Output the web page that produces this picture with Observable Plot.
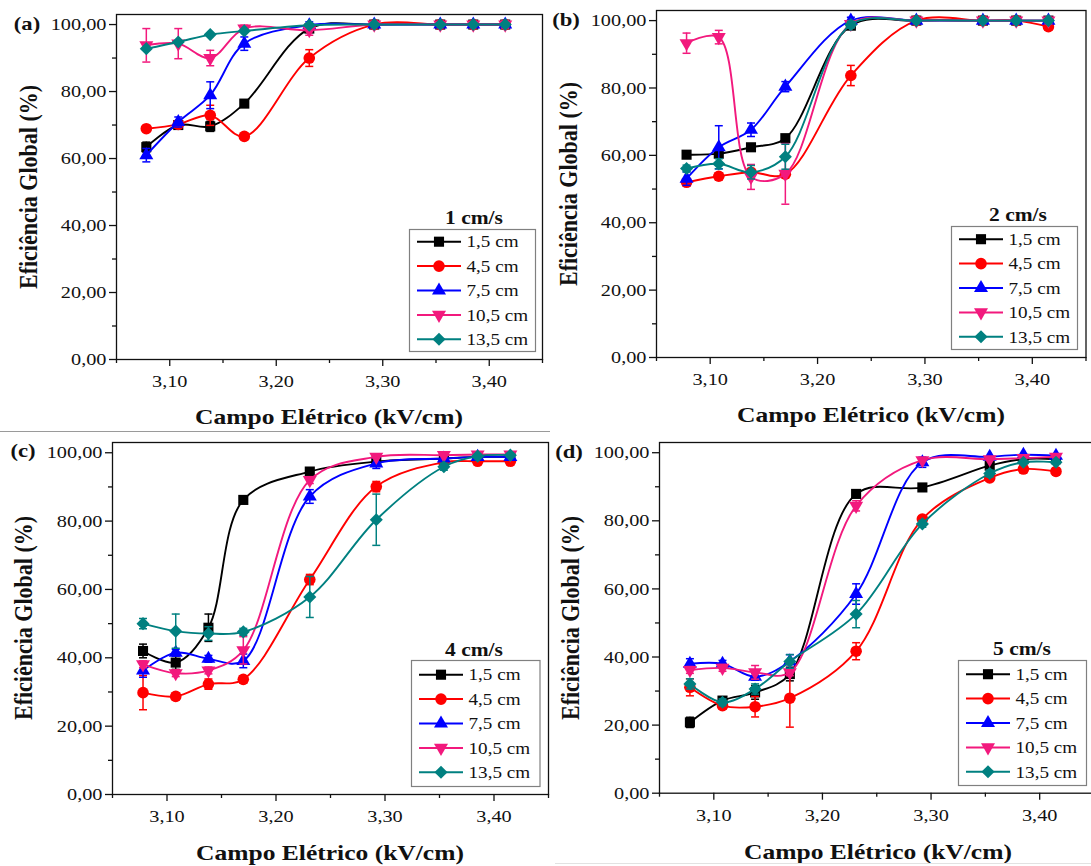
<!DOCTYPE html>
<html><head><meta charset="utf-8">
<script src="https://cdn.jsdelivr.net/npm/d3@7"></script>
<script src="https://cdn.jsdelivr.net/npm/@observablehq/plot@0.6"></script>
<style>
html,body{margin:0;padding:0;background:#fff;overflow:hidden;}
#root{position:relative;width:1091px;height:866px;overflow:hidden;background:#fff;font-family:"Liberation Serif","Times New Roman",serif;color:#111;}
.pl{position:absolute;}
.pl svg{overflow:visible;}
.t{position:absolute;white-space:nowrap;line-height:1;}
.b{font-weight:bold;}
</style></head><body><div id="root"></div><script>
// ---- data ----
const fieldKVcm = [3.078, 3.108, 3.138, 3.170, 3.231, 3.292, 3.354, 3.385, 3.415];
const seriesLabels = ["1,5 cm", "4,5 cm", "7,5 cm", "10,5 cm", "13,5 cm"];
const panelTags = ["(a)", "(b)", "(c)", "(d)"];
const panelSpeeds = ["1 cm/s", "2 cm/s", "4 cm/s", "5 cm/s"];
const xTicks = [3.1, 3.2, 3.3, 3.4];
const xMinorTicks = [3.05, 3.15, 3.25, 3.35, 3.45];
const yTicks = [0, 20, 40, 60, 80, 100];
const yMinorTicks = [10, 30, 50, 70, 90];
const xTitle = "Campo Elétrico (kV/cm)";
const yTitle = "Eficiência Global (%)";

// efficiency (%) per series [1,5 / 4,5 / 7,5 / 10,5 / 13,5 cm]
const eff1cms = [
  [63.4, 70.0, 69.6, 76.4, 98.8, 100, 100, 100, 100],
  [68.9, 70.2, 72.9, 66.6, 90.0, 100, 100, 100, 100],
  [61.0, 70.9, 78.9, 94.3, 99.8, 100, 100, 100, 100],
  [93.8, 94.3, 90.0, 98.8, 98.3, 100, 100, 100, 100],
  [92.8, 94.8, 97.0, 98.1, 99.8, 100, 100, 100, 100]
];
const err1cms = [
  [1.5, 0, 1.5, 0, 1, 0, 0, 0, 0],
  [0, 0, 3, 0, 2.5, 0, 0, 0, 0],
  [2, 1.5, 4, 2, 1, 0, 0, 0, 0],
  [5, 4.5, 2.3, 1, 1.5, 0, 0, 0, 1],
  [0, 0, 0, 0, 0, 0, 0, 0, 0]
];
const eff2cms = [
  [60.2, 60.5, 62.4, 65.1, 98.5, 100, 100, 100, 100],
  [52.0, 53.8, 55.0, 54.4, 83.7, 100, 100, 100, 98.2],
  [53.1, 62.4, 67.6, 80.4, 100, 100, 100, 100, 100],
  [93.3, 95.1, 53.6, 54.5, 99.0, 100, 100, 100, 100],
  [56.1, 57.5, 55.0, 59.6, 98.8, 100, 100, 100, 100]
];
const err2cms = [
  [1, 0, 1, 1, 1, 0, 0, 0, 0],
  [1, 1, 1, 0, 3, 0, 0, 0, 1],
  [2, 6.4, 2, 1.5, 1, 0, 0, 0, 0],
  [3, 2, 3.7, 9, 1, 0, 0, 0, 1],
  [1, 1.5, 2, 3.7, 1, 0, 0, 0, 0]
];
const eff4cms = [
  [42.0, 38.6, 48.8, 86.2, 94.5, 97.4, 98.3, 98.8, 98.8],
  [29.8, 28.7, 32.3, 33.7, 62.9, 90.1, 97.2, 97.5, 97.5],
  [36.3, 41.5, 39.7, 39.1, 87.2, 96.9, 98.3, 98.8, 98.8],
  [38.1, 35.5, 36.3, 42.2, 92.0, 98.8, 99.3, 99.5, 99.5],
  [50.0, 47.8, 47.1, 47.6, 57.8, 80.4, 95.9, 99.0, 99.3]
];
const err4cms = [
  [2, 2, 4, 1, 1, 0, 0, 0, 0],
  [5, 1, 1.5, 1, 1.5, 1.5, 1, 0.5, 0.5],
  [2, 1, 1, 2, 2, 1.5, 0, 0, 0],
  [1, 1, 1, 4, 1, 0, 0, 0, 0],
  [1.5, 5, 2, 1, 6, 7.5, 1, 0.5, 0.5]
];
const eff5cms = [
  [20.8, 27.2, 29.6, 35.0, 87.9, 89.8, 96.2, 98.1, 98.1],
  [31.1, 25.7, 25.4, 27.9, 41.7, 80.5, 92.6, 95.2, 94.5],
  [38.0, 38.0, 34.2, 38.7, 58.5, 97.2, 98.8, 99.4, 99.1],
  [36.2, 36.8, 35.5, 35.5, 84.4, 97.8, 98.1, 98.4, 98.8],
  [32.1, 26.7, 30.6, 38.7, 52.6, 79.1, 93.9, 97.2, 97.2]
];
const err5cms = [
  [1.5, 1, 2, 2, 1, 1, 1, 0, 0],
  [2.5, 1, 3, 8.5, 2.5, 1, 1, 1, 1],
  [1.5, 1, 1, 2, 3, 1.5, 0, 0, 0],
  [1, 1, 2, 1, 1.5, 0, 0, 0, 0],
  [1.5, 1, 1.5, 2, 4, 1, 1, 0, 0]
];
const panelEff = [eff1cms, eff2cms, eff4cms, eff5cms];
const panelErr = [err1cms, err2cms, err4cms, err5cms];

// ---- style ----
const SX = 1.16; // horizontal stretch of the original figure's text
const colors = ["#000000", "#ff0000", "#0000ff", "#f2197d", "#008080"];
const triDown = {draw(ctx, size) {
  const y = -Math.sqrt(size / (Math.sqrt(3) * 3));
  ctx.moveTo(0, -2 * y); ctx.lineTo(-Math.sqrt(3) * y, y); ctx.lineTo(Math.sqrt(3) * y, y); ctx.closePath();
}};
const capSym = {draw(ctx, size) {
  const r = Math.sqrt(size / Math.PI);
  ctx.moveTo(-r, 0); ctx.lineTo(r, 0);
}};
const symbols = [d3.symbolSquare, d3.symbolCircle, d3.symbolTriangle, triDown, d3.symbolDiamond2];
const symR = [5.7, 5.8, 5.2, 5.2, 5.9];

const layout = [
  {left: 0, top: 0, w: 560, h: 430, ml: 116, mr: 18, mt: 14, mb: 71,
   tag: [27, 24], yl: [28.7, 186.5], xl: [329, 416.7], leg: [408.5, 229, 127, 123], title: [473.8, 218]},
  {left: 545, top: 0, w: 546, h: 430, ml: 111, mr: 5.5, mt: 10, mb: 73,
   tag: [566, 20], yl: [568.5, 183.5], xl: [871, 415], leg: [950.6, 226, 127, 124], title: [1017.5, 215]},
  {left: 0, top: 430, w: 560, h: 436, ml: 112, mr: 12, mt: 12, mb: 72,
   tag: [22.6, 451], yl: [24.3, 618], xl: [330, 853.3], leg: [411, 660, 129.5, 127], title: [473.8, 650]},
  {left: 545, top: 430, w: 560, h: 436, ml: 114, mr: 11.5, mt: 12, mb: 73.3,
   tag: [569, 452], yl: [571, 617.5], xl: [877.5, 851.7], leg: [957.6, 660, 129, 126], title: [1022, 649]}
];

const root = document.getElementById("root");
const fmt = d => d.toFixed(2).replace(".", ",");

function addText(txt, x, y, cls, size, rotate) {
  const d = document.createElement("div");
  d.className = "t " + cls;
  d.textContent = txt;
  d.style.left = x + "px"; d.style.top = y + "px"; d.style.fontSize = size + "px";
  d.style.transform = rotate
    ? `translate(-50%,-50%) rotate(-90deg) scale(1,${SX})`
    : `translate(-50%,-50%) scale(${SX},1)`;
  root.appendChild(d);
}

panelEff.forEach((eff, p) => {
  const L = layout[p];
  const rows = [];
  eff.forEach((vals, s) => vals.forEach((v, i) => rows.push({x: fieldKVcm[i], y: v, e: panelErr[p][s][i], s})));
  const marks = [];
  for (let s = 0; s < 5; s++) {
    const sr = rows.filter(d => d.s === s);
    const er = sr.filter(d => d.e > 0);
    marks.push(Plot.line(sr, {x: "x", y: "y", curve: "catmull-rom", stroke: colors[s], strokeWidth: 1.9}));
    marks.push(Plot.ruleX(er, {x: "x", y1: d => d.y - d.e, y2: d => d.y + d.e, stroke: colors[s], strokeWidth: 1.5}));
    marks.push(Plot.dot(er, {x: "x", y: d => d.y + d.e, symbol: capSym, r: 4, fill: "none", stroke: colors[s], strokeWidth: 1.5}));
    marks.push(Plot.dot(er, {x: "x", y: d => d.y - d.e, symbol: capSym, r: 4, fill: "none", stroke: colors[s], strokeWidth: 1.5}));
    marks.push(Plot.dot(sr, {x: "x", y: "y", symbol: symbols[s], r: symR[s], fill: colors[s], stroke: "none"}));
  }
  marks.push(Plot.frame({stroke: "#111", strokeWidth: 1.3}));
  marks.push(Plot.axisY({ticks: yTicks, tickFormat: fmt, tickSize: 7, tickPadding: 3, strokeWidth: 1.3, label: null}));
  marks.push(Plot.axisY({ticks: yMinorTicks, tickFormat: () => "", tickSize: 4, strokeWidth: 1.3, label: null}));
  marks.push(Plot.axisX({ticks: xTicks, tickFormat: fmt, tickSize: 7, tickPadding: 8, strokeWidth: 1.3, label: null}));
  marks.push(Plot.axisX({ticks: xMinorTicks, tickFormat: () => "", tickSize: 4, strokeWidth: 1.3, label: null}));
  const chart = Plot.plot({
    width: L.w, height: L.h,
    marginLeft: L.ml, marginRight: L.mr, marginTop: L.mt, marginBottom: L.mb,
    x: {domain: [3.05, 3.45], label: null},
    y: {domain: [0, 103], label: null},
    style: {fontFamily: '"Liberation Serif", serif', fontSize: "17.5px", color: "#111", background: "transparent", overflow: "visible", maxWidth: "none"},
    marks
  });
  // stretch tick labels horizontally like the original raster
  d3.select(chart).selectAll('g[aria-label="y-axis tick label"] text, g[aria-label="x-axis tick label"] text')
    .attr("transform", function () { return (this.getAttribute("transform") || "") + ` scale(${SX},1)`; });
  const wrap = document.createElement("div");
  wrap.className = "pl";
  wrap.style.left = L.left + "px"; wrap.style.top = L.top + "px";
  wrap.style.width = L.w + "px"; wrap.style.height = L.h + "px";
  wrap.appendChild(chart);
  root.appendChild(wrap);

  // texts
  addText(panelTags[p], L.tag[0], L.tag[1], "b", 19.5);
  addText(yTitle, L.yl[0], L.yl[1], "b", 22, true);
  addText(xTitle, L.xl[0], L.xl[1], "b", 22);
  addText(panelSpeeds[p], L.title[0], L.title[1], "b", 18.5);

  // legend box
  const [lx, ly, lw, lh] = L.leg;
  const svg = d3.select(root).append("svg")
    .attr("width", lw).attr("height", lh)
    .style("position", "absolute").style("left", lx + "px").style("top", ly + "px").style("overflow", "visible");
  svg.append("rect").attr("x", 0.5).attr("y", 0.5).attr("width", lw - 1).attr("height", lh - 1)
    .attr("fill", "#fff").attr("stroke", "#808080").attr("stroke-width", 1.2);
  const sp = 24.4, y0 = (lh - 4 * sp) / 2;
  seriesLabels.forEach((lab, s) => {
    const y = y0 + s * sp;
    svg.append("line").attr("x1", 8).attr("x2", 52).attr("y1", y).attr("y2", y)
      .attr("stroke", colors[s]).attr("stroke-width", 2);
    svg.append("path").attr("transform", `translate(30,${y})`)
      .attr("d", d3.symbol(symbols[s], Math.PI * symR[s] * symR[s])())
      .attr("fill", colors[s]);
    svg.append("text").attr("transform", `translate(57.5,${y}) scale(${SX},1)`).attr("dy", "0.35em")
      .attr("font-family", '"Liberation Serif", serif').attr("font-size", 16.5).attr("fill", "#111").text(lab);
  });
});

// separator artifacts of the original figure montage
const sep = document.createElement("div");
sep.style.cssText = "position:absolute;left:0;top:431px;width:550px;height:1px;background:#9a9a9a;";
root.appendChild(sep);
const sep2 = document.createElement("div");
sep2.style.cssText = "position:absolute;left:555px;top:863px;width:536px;height:1px;background:#e2e2e2;";
root.appendChild(sep2);
</script></body></html>
